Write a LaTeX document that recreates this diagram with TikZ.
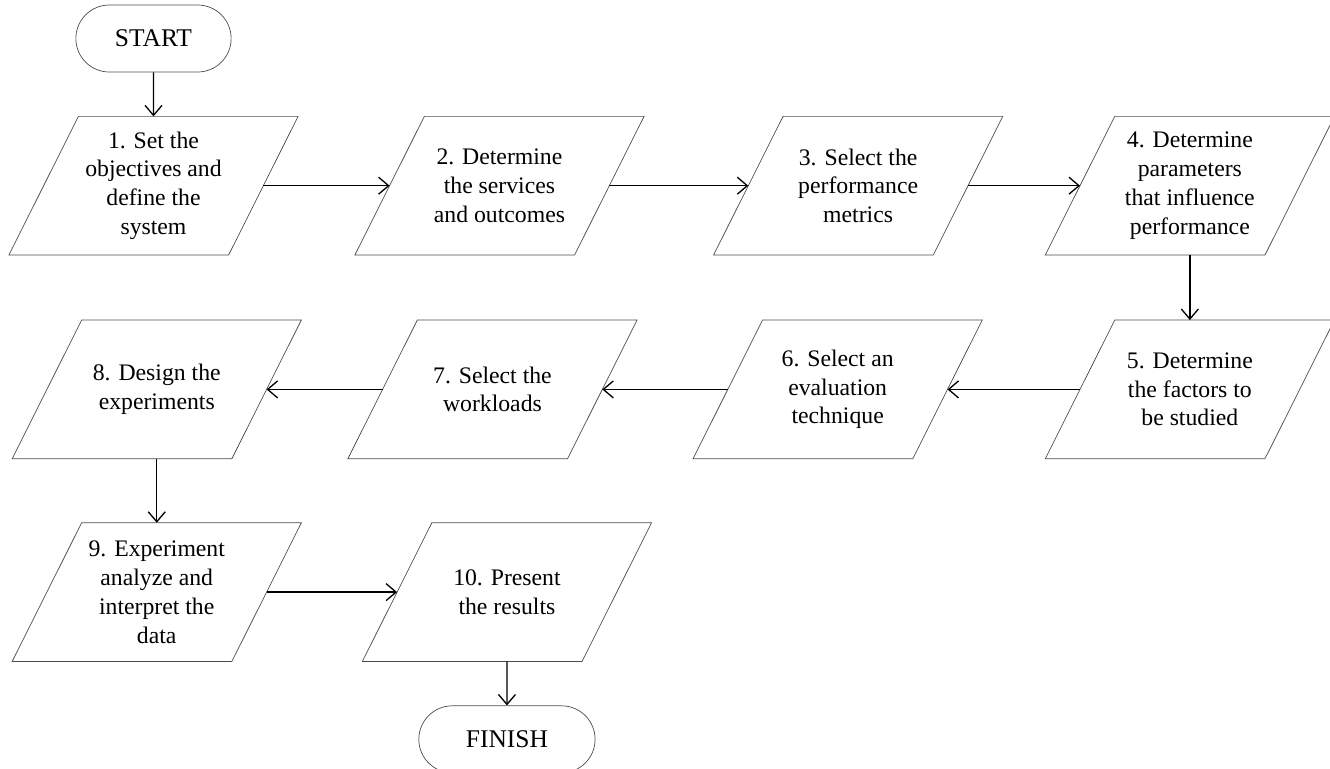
\documentclass[tikz,border=0pt]{standalone}
\usepackage{fontspec}
\setmainfont{Liberation Serif}
\usetikzlibrary{positioning}
\usetikzlibrary{shapes.misc}
\usetikzlibrary{arrows.meta}

\begin{document}
\begin{tikzpicture}
	[	auto,
		io/.style={rectangle,minimum width=4.38cm,minimum height=2.76cm,inner sep=1pt,align=center,font=\fontsize{13.5}{16.4}\selectfont},
		frame/.style={draw=black!70,thin},
		term/.style={rounded rectangle,draw=black!70,thin,minimum height=1.34cm,font=\fontsize{14.5}{17}\selectfont},
		vec/.style={->,>={Straight Barb[length=2mm,width=3.4mm]},line width=0.75pt}	]
	\useasboundingbox (0,0) rectangle (26.6,-15.38);
	\node[term,minimum width=3.34cm] (start) at (3.07,-0.77) {START};
	\node[io] (obj) [below = 0.88cm of start] {1. Set the\\objectives and\\define the\\system};
	\node[io] (svc) [right = 2.525cm of obj] {2. Determine\\the services\\and outcomes};
	\node[io] (met) [right = 2.78cm of svc] {3. Select the\\performance\\metrics};
	\node[io] (par) [right = 2.24cm of met] {4. Determine\\parameters\\that influence\\performance};
	\node[io] (fac) [below = 1.3cm of par] {5. Determine\\the factors to\\be studied};
	\node[io] (tech) [left = 2.65cm of fac] {6. Select an\\evaluation\\technique};
	\node[io] (work) [left = 2.51cm of tech] {7. Select the\\workloads};
	\node[io] (exper) [left = 2.32cm of work] {8. Design the\\experiments};
	\node[io] (data) [below = 1.28cm of exper] {9. Experiment\\analyze and\\interpret the\\data};
	\node[io] (res) [right = 2.61cm of data] {10. Present\\the results};
	\node[term,minimum width=3.76cm] (finish) [below = 0.88cm of res] {FINISH};
	\foreach \b in {obj,svc,met,par,fac,tech,work,exper,data,res}
		\draw[frame] ([xshift=0.695cm]\b.north west) -- ([xshift=0.695cm]\b.north east)
			-- ([xshift=-0.695cm]\b.south east) -- ([xshift=-0.695cm]\b.south west) -- cycle;
	\draw[vec] (start) to (obj);
	\draw[vec] (obj) to (svc);
	\draw[vec] (svc) to (met);
	\draw[vec] (met) to (par);
	\draw[vec] (par) to (fac);
	\draw[vec] (fac) to (tech);
	\draw[vec] (tech) to (work);
	\draw[vec] (work) to (exper);
	\draw[vec] (exper) to (data);
	\draw[vec] (data) to (res);
	\draw[vec] (res) to (finish);
\end{tikzpicture}
\end{document}
